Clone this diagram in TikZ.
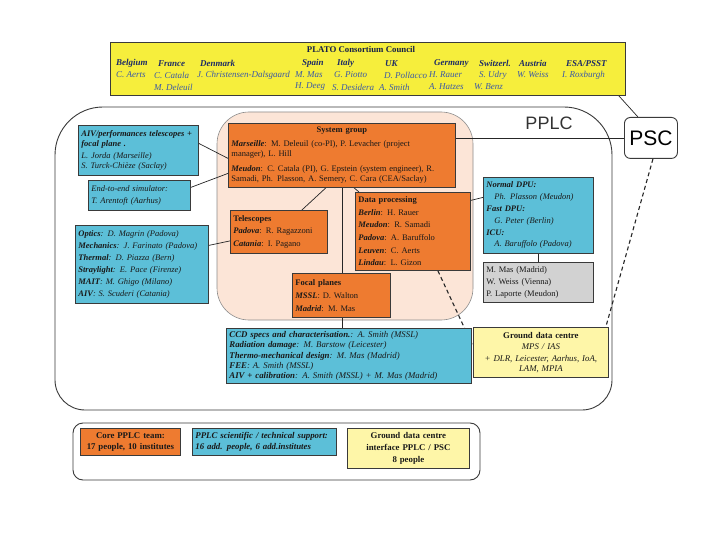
\documentclass[tikz,border=0pt]{standalone}
\usepackage{fontspec}
\setmainfont{Liberation Serif}
\newfontfamily\arialf{Liberation Sans}
\usetikzlibrary{calc}
\pgfdeclarelayer{back}
\pgfdeclarelayer{mid}
\pgfsetlayers{back,mid,main}
\definecolor{orangec}{HTML}{EE7B30}
\definecolor{cyanc}{HTML}{5CBFD8}
\definecolor{grayc}{HTML}{D2D2D2}
\definecolor{gdcy}{HTML}{FEF6A8}
\definecolor{councily}{HTML}{F6EE3C}
\definecolor{pinkc}{HTML}{FCE5D7}
\definecolor{navyc}{HTML}{1E2C66}
\definecolor{bluec}{HTML}{3A58A6}
\definecolor{edgec}{HTML}{3A3A3A}
\newcommand\myfs{\fontsize{8.5}{10}\selectfont}
\newcommand\bi[1]{\textbf{\textit{#1}}}
\tikzset{
  bx/.style={draw=edgec, line width=0.8pt, anchor=north west, inner sep=3pt, align=left, font=\myfs, text=black!90},
  orb/.style={bx, fill=orangec},
  cyb/.style={bx, fill=cyanc},
  gyb/.style={bx, fill=grayc},
  ylb/.style={bx, fill=gdcy, align=center},
  ctry/.style={anchor=west, inner sep=0pt, font=\fontsize{9}{10}\selectfont\bfseries\itshape, text=navyc},
  pers/.style={anchor=west, inner sep=0pt, font=\fontsize{9}{10}\selectfont\itshape, text=bluec},
  conn/.style={draw=black!85, line width=0.7pt},
  dashconn/.style={draw=black!85, line width=1.1pt, dash pattern=on 4pt off 3pt},
  frame/.style={draw=edgec, line width=0.9pt}
}
\begin{document}
\begin{tikzpicture}[x=1pt,y=-1pt]
\useasboundingbox (0,0) rectangle (720,540);
\begin{pgfonlayer}{back}
\fill[white] (0,0) rectangle (720,540);
\end{pgfonlayer}

% council
\node[bx, fill=councily, minimum width=515pt, minimum height=53pt] (council) at (110,42) {};
\node[inner sep=0pt, font=\fontsize{8.8}{9}\selectfont\bfseries, text=navyc!70!black] (ctitle) at (361,49.5) {PLATO Consortium Council};
\node[ctry] (c1) at (116,63.5) {Belgium};
\node[ctry] (c2) at (158,63.5) {France};
\node[ctry] (c3) at (200,63.5) {Denmark};
\node[ctry] (c4) at (302,63.5) {Spain};
\node[ctry] (c5) at (337,63.5) {Italy};
\node[ctry] (c6) at (385,63.5) {UK};
\node[ctry] (c7) at (434,63.5) {Germany};
\node[ctry] (c8) at (479,63.5) {Switzerl.};
\node[ctry] (c9) at (519,63.5) {Austria};
\node[ctry] (c10) at (566,63.5) {ESA/PSST};
\node[pers] (p1) at (116,75) {C. Aerts};
\node[pers] (p2) at (154,75) {C. Catala};
\node[pers] (p2b) at (154,87) {M. Deleuil};
\node[pers] (p3) at (197,75) {J. Christensen-Dalsgaard};
\node[pers] (p4) at (295,75) {M. Mas};
\node[pers] (p4b) at (295,87) {H. Deeg};
\node[pers] (p5) at (334,75) {G. Piotto};
\node[pers] (p5b) at (332,87) {S. Desidera};
\node[pers] (p6) at (384,75) {D. Pollacco};
\node[pers] (p6b) at (379,87) {A. Smith};
\node[pers] (p7) at (429,75) {H. Rauer};
\node[pers] (p7b) at (429,87) {A. Hatzes};
\node[pers] (p8) at (479,75) {S. Udry};
\node[pers] (p8b) at (474,87) {W. Benz};
\node[pers] (p9) at (517,75) {W. Weiss};
\node[pers] (p10) at (562,75) {I. Roxburgh};

% PPLC frame and pink core region
\begin{pgfonlayer}{back}
\draw[frame] (55,300) [rounded corners=48pt] -- (55,107) -- (612,107) -- (612,300) [rounded corners=30pt] -- (612,410) -- (55,410) -- cycle;
\draw[draw=black!45, fill=pinkc, line width=0.6pt, rounded corners=32pt] (217,112) rectangle (473,320);
\end{pgfonlayer}
\node[inner sep=0pt, font=\arialf\fontsize{18}{18}\selectfont, text=black!80] (pplc) at (549,123) {PPLC};

% PSC
\node[draw=edgec, line width=0.9pt, rounded corners=6pt, anchor=north west, minimum width=53pt, minimum height=41pt, inner sep=0pt, font=\arialf\fontsize{21}{21}\selectfont, fill=white] (psc) at (624,117) {PSC};

% core boxes
\node[orb, minimum width=227pt, minimum height=64pt, text width=221pt] (sg) at (228,123) {%
\hfill\textbf{System group}\hfill\mbox{}\\[4pt]
\bi{Marseille}: M. Deleuil (co-PI), P. Levacher (project\\ manager), L. Hill\\[5pt]
\bi{Meudon}: C. Catala (PI), G. Epstein (system engineer), R.\\ Samadi, Ph. Plasson, A. Semery, C. Cara (CEA/Saclay)};

\node[orb, minimum width=97pt, minimum height=43pt, text width=91pt, font=\fontsize{8.5}{12.8}\selectfont] (tel) at (230,210) {%
\textbf{Telescopes}\\ \bi{Padova}: R. Ragazzoni\\ \bi{Catania}: I. Pagano};

\node[orb, minimum width=115pt, minimum height=78pt, text width=109pt, font=\fontsize{8.5}{12.6}\selectfont] (dp) at (355,192) {%
\textbf{Data processing}\\ \bi{Berlin}: H. Rauer\\ \bi{Meudon}: R. Samadi\\ \bi{Padova}: A. Baruffolo\\ \bi{Leuven}: C. Aerts\\ \bi{Lindau}: L. Gizon};

\node[orb, minimum width=98pt, minimum height=44pt, text width=92pt, font=\fontsize{8.5}{12.8}\selectfont] (fp) at (292,273) {%
\textbf{Focal planes}\\ \bi{MSSL}: D. Walton\\ \bi{Madrid}: M. Mas};

% support boxes
\node[cyb, minimum width=120pt, minimum height=50pt, text width=114pt, font=\fontsize{8.5}{9.8}\selectfont\itshape] (aiv) at (78,125) {%
\bi{AIV/performances telescopes +}\\ \bi{focal plane .}\\[2pt] L. Jorda (Marseille)\\ S. Turck-Chièze (Saclay)};

\node[cyb, minimum width=102pt, minimum height=30pt, text width=96pt, font=\fontsize{8.5}{12}\selectfont\itshape] (e2e) at (88,180) {%
End-to-end simulator:\\ T. Arentoft (Aarhus)};

\node[cyb, minimum width=133pt, minimum height=78pt, text width=127pt, font=\fontsize{8.5}{12}\selectfont\itshape] (opt) at (75,225) {%
\bi{Optics}: D. Magrin (Padova)\\ \bi{Mechanics}: J. Farinato (Padova)\\ \bi{Thermal}: D. Piazza (Bern)\\ \bi{Straylight}: E. Pace (Firenze)\\ \bi{MAIT}: M. Ghigo (Milano)\\ \bi{AIV}: S. Scuderi (Catania)};

\node[cyb, minimum width=110pt, minimum height=76pt, text width=104pt, font=\fontsize{8.5}{11.8}\selectfont\itshape] (dpu) at (483,177) {%
\bi{Normal DPU:}\\ \hspace*{8pt}Ph. Plasson (Meudon)\\ \bi{Fast DPU:}\\ \hspace*{8pt}G. Peter (Berlin)\\ \bi{ICU:}\\ \hspace*{8pt}A. Baruffolo (Padova)};

\node[gyb, minimum width=110pt, minimum height=40pt, text width=104pt, font=\fontsize{8.5}{12}\selectfont] (gry) at (483,262) {%
M. Mas (Madrid)\\ W. Weiss (Vienna)\\ P. Laporte (Meudon)};

\node[cyb, minimum width=245pt, minimum height=49pt, text width=239pt, font=\fontsize{8.8}{10.3}\selectfont\itshape] (ccd) at (226,328) {%
\bi{CCD specs and characterisation.}: A. Smith (MSSL)\\ \bi{Radiation damage}: M. Barstow (Leicester)\\ \bi{Thermo-mechanical design}: M. Mas (Madrid)\\ \bi{FEE}: A. Smith (MSSL)\\ \bi{AIV + calibration}: A. Smith (MSSL) + M. Mas (Madrid)};

\node[ylb, minimum width=135pt, minimum height=50pt, text width=129pt, font=\fontsize{8.8}{10}\selectfont] (gdc) at (473,327) {%
\textbf{Ground data centre}\\[1pt] \textit{MPS / IAS}\\[2pt] \textit{+ DLR, Leicester, Aarhus, IoA,}\\ \textit{LAM, MPIA}};

% legend
\begin{pgfonlayer}{back}
\draw[frame, rounded corners=10pt] (73,423) rectangle (480,480);
\end{pgfonlayer}
\node[orb, align=center, minimum width=100pt, minimum height=27pt, text width=94pt, font=\fontsize{8.8}{11.5}\selectfont\bfseries] (lg1) at (80,428) {%
Core PPLC team:\\ 17 people, 10 institutes};
\node[cyb, minimum width=144pt, minimum height=27pt, text width=138pt, font=\fontsize{8.8}{11.5}\selectfont\bfseries\itshape] (lg2) at (192,428) {%
PPLC scientific / technical support:\\ 16 add. people, 6 add.institutes};
\node[ylb, minimum width=122pt, minimum height=40pt, text width=116pt, font=\fontsize{8.8}{12}\selectfont\bfseries] (lg3) at (347,428) {%
Ground data centre\\ interface PPLC / PSC\\ 8 people};

% connectors
\begin{pgfonlayer}{mid}
\draw[conn] (sg.south) -- (sg.south |- ccd.north);
\draw[conn] ([yshift=7pt]aiv.east) -- ([yshift=-3pt]sg.west);
\draw[conn] ([yshift=8pt]e2e.east) -- ([yshift=-18pt]sg.west);
\draw[conn] ([yshift=19pt]opt.east) -- ([yshift=-9pt]tel.west);
\draw[conn] ([xshift=-16pt]sg.south) -- ([xshift=23pt]tel.north);
\draw[conn] ([xshift=-1pt]sg.south -| dp.north west) -- ([xshift=4pt]dp.north west);
\draw[conn] ([yshift=31pt]dp.east) -- ([yshift=18pt]dpu.west);
\draw[conn] (dpu.south) -- (gry.north);
\draw[conn] ([xshift=-7pt]council.south east) -- ([xshift=-13pt]psc.north);
\draw[conn] (sg.east |- psc.west) -- (psc.west);
\draw[dashconn] ([xshift=2pt]psc.south) -- ([xshift=-3pt]gdc.north east);
\draw[dashconn] ([xshift=25pt]dp.south) -- ([yshift=6pt]gdc.west);
\end{pgfonlayer}
\end{tikzpicture}
\end{document}
